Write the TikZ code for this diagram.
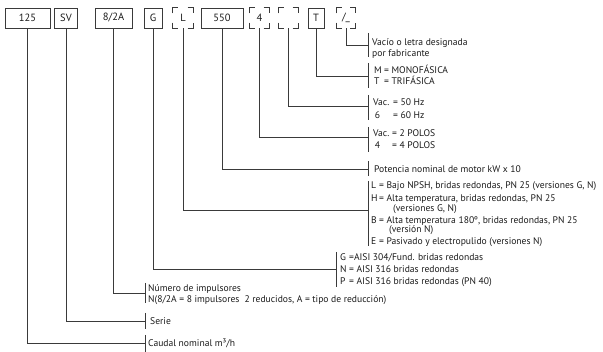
\documentclass[tikz,border=0pt]{standalone}
\usepackage{fontspec}
\setmainfont{PT Sans}
\definecolor{lc}{HTML}{3A3A3A}
\definecolor{tc}{HTML}{1A1A1A}
\newcommand\ky[2]{\makebox[#1][l]{#2}}
\newcommand\crn[1]{%
  \draw[ln] ([yshift=-5.5pt]#1.north west) |- ([xshift=5.5pt]#1.north west);
  \draw[ln] ([xshift=-5.5pt]#1.north east) -| ([yshift=-5.5pt]#1.north east);
  \draw[ln] ([yshift=5.5pt]#1.south west) |- ([xshift=5.5pt]#1.south west);
  \draw[ln] ([xshift=-5.5pt]#1.south east) -| ([yshift=5.5pt]#1.south east);}
\begin{document}
\begin{tikzpicture}[x=1pt,y=-1pt,
  ln/.style={draw=lc, line width=0.75pt},
  cbox/.style={draw=lc, line width=0.75pt, minimum height=20pt, inner sep=0pt, text=tc, font=\fontsize{10.5}{12}\selectfont},
  dbox/.style={minimum height=20pt, inner sep=0pt, text=tc, font=\fontsize{10.5}{12}\selectfont},
  lg/.style={anchor=base west, inner sep=0pt, text=tc, font=\fontsize{9.6}{11}\selectfont}]
\useasboundingbox (0,0) rectangle (603,352);
% top row
\node[cbox, minimum width=45pt] (b1) at (27.5,18) {125};
\node[cbox, minimum width=23pt] (b2) at (66,18) {SV};
\node[cbox, minimum width=37pt] (b3) at (113.5,18) {8/2A};
\node[cbox, minimum width=18pt] (b4) at (153,18) {G};
\node[dbox, minimum width=20pt] (b5) at (183,18) {L};
\node[cbox, minimum width=42pt] (b6) at (222,18) {550};
\node[dbox, minimum width=19pt] (b7) at (259.5,18) {4};
\node[dbox, minimum width=19pt] (b8) at (288.5,18) {};
\node[cbox, minimum width=16pt] (b9) at (316,18) {T};
\node[dbox, minimum width=19pt] (b10) at (346,18) {/\_};
\crn{b5}\crn{b7}\crn{b8}\crn{b10}
% junctions
\coordinate (j10) at (368,45);
\coordinate (j9) at (368,76);
\coordinate (j8) at (368,106);
\coordinate (j7) at (368,137);
\coordinate (j6) at (368,169);
\coordinate (j5) at (368,210);
\coordinate (j4) at (336,269);
\coordinate (j3) at (145,293);
\coordinate (j2) at (145,321);
\coordinate (j1) at (145,343);
% brackets
\draw[ln] (368,33) -- (368,57);
\draw[ln] (368,63) -- (368,88);
\draw[ln] (368,95) -- (368,120);
\draw[ln] (368,127) -- (368,152);
\draw[ln] (368,161) -- (368,176);
\draw[ln] (368,181) -- (368,246);
\draw[ln] (336,252) -- (336,287);
\draw[ln] (145,283) -- (145,303);
\draw[ln] (145,313) -- (145,329);
\draw[ln] (145,335) -- (145,352);
% connectors
\foreach \i in {1,...,10} \draw[ln] (b\i.south) |- (j\i);
% legends
\node[lg] (t10a) at (372,46) {Vacío o letra designada};
\node[lg] (t10b) at (372,57) {por fabricante};
\node[lg] (t9a) at (374,74) {\ky{10pt}{M}= MONOFÁSICA};
\node[lg] (t9b) at (374,85) {\ky{10pt}{T}= TRIFÁSICA};
\node[lg] (t8a) at (373,106) {\ky{20pt}{Vac.}= 50 Hz};
\node[lg] (t8b) at (373,119) {\ky{20pt}{\,6}= 60 Hz};
\node[lg] (t7a) at (373,137) {\ky{19pt}{Vac.}= 2 POLOS};
\node[lg] (t7b) at (373,149) {\ky{19pt}{\,4}= 4 POLOS};
\node[lg] (t6) at (374,173) {Potencia nominal de motor kW x 10};
\node[lg] (t5a) at (371,189) {\ky{8pt}{L}= Bajo NPSH, bridas redondas, PN 25 (versiones G, N)};
\node[lg] (t5b) at (371,202) {\ky{8pt}{H}= Alta temperatura, bridas redondas, PN 25};
\node[lg] (t5c) at (393,212) {(versiones G, N)};
\node[lg] (t5d) at (371,224) {\ky{8pt}{B}= Alta temperatura 180º, bridas redondas, PN 25};
\node[lg] (t5e) at (389,233) {(versión N)};
\node[lg] (t5f) at (371,245) {\ky{8pt}{E}= Pasivado y electropulido (versiones N)};
\node[lg] (t4a) at (340,261) {\ky{9pt}{G}=AISI 304/Fund. bridas redondas};
\node[lg] (t4b) at (340,273) {\ky{9pt}{N}= AISI 316 bridas redondas};
\node[lg] (t4c) at (340,285) {\ky{9pt}{P}= AISI 316 bridas redondas (PN 40)};
\node[lg] (t3a) at (148,292) {Número de impulsores};
\node[lg] (t3b) at (148,303) {N(8/2A = 8 impulsores\ \ 2 reducidos, A = tipo de reducción)};
\node[lg] (t2) at (150,325) {Serie};
\node[lg] (t1) at (148,347) {Caudal nominal m³/h};
\end{tikzpicture}
\end{document}
